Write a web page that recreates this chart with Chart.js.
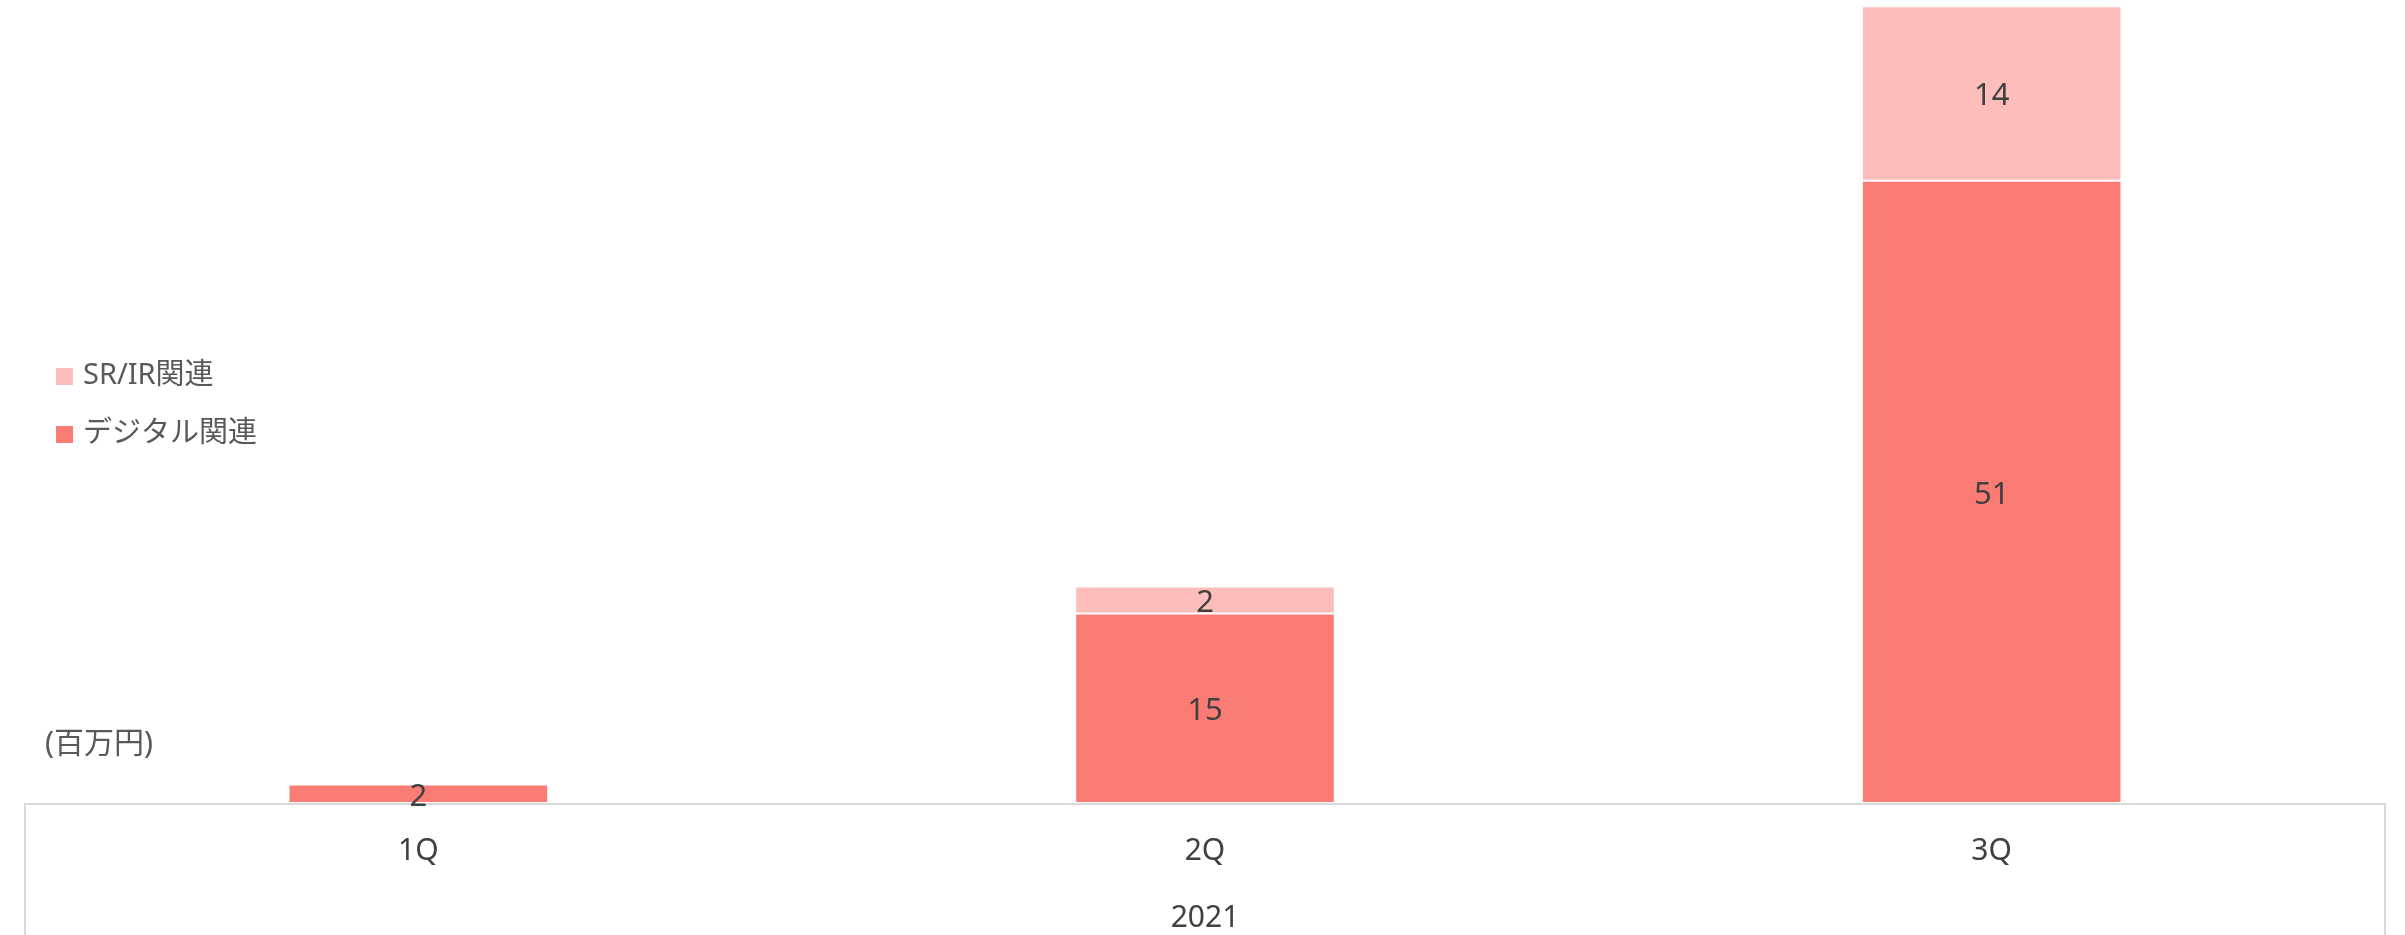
<!DOCTYPE html>
<html>
<head>
<meta charset="utf-8">
<script src="https://cdn.jsdelivr.net/npm/chart.js@4/dist/chart.umd.min.js"></script>
<style>
    html, body { margin: 0; padding: 0; background: #ffffff; }
    #wrap { width: 2405px; height: 935px; }
</style>
</head>
<body>
<div id="wrap"><canvas id="salesChart" width="2405" height="935"></canvas></div>
<script>
const quarters = ['1Q', '2Q', '3Q'];
const yearLabel = '2021';
const unitLabel = '(百万円)';
const digitalValues = [1.5, 15.4, 50.6];
const srIrValues = [null, 2.2, 14.2];
const seriesNames = ['デジタル関連', 'SR/IR関連'];

const colors = {
    digital: '#fb7c74',
    srIr: '#fdbdbb',
    axis: '#d9d9d9',
    text: '#404040',
    legendText: '#595959'
};
const fontFamily = '"Noto Sans", "Noto Sans CJK JP", sans-serif';

const overlayPlugin = {
    id: 'overlay',
    afterDraw: function (chart) {
        const ctx = chart.ctx;
        const area = chart.chartArea;
        const bottom = chart.height;

        ctx.save();
        // axis frame
        ctx.strokeStyle = colors.axis;
        ctx.lineWidth = 2;
        ctx.beginPath();
        ctx.moveTo(area.left, area.bottom + 1);
        ctx.lineTo(area.right, area.bottom + 1);
        ctx.moveTo(area.left, area.bottom);
        ctx.lineTo(area.left, bottom);
        ctx.moveTo(area.right, area.bottom);
        ctx.lineTo(area.right, bottom);
        ctx.stroke();

        // group label
        ctx.fillStyle = colors.text;
        ctx.font = '30px ' + fontFamily;
        ctx.textAlign = 'center';
        ctx.textBaseline = 'middle';
        ctx.fillText(yearLabel, (area.left + area.right) / 2, 918);

        // unit
        ctx.fillStyle = colors.legendText;
        ctx.font = '30px ' + fontFamily;
        ctx.textAlign = 'left';
        ctx.fillText(unitLabel, 45, 744);

        // legend (stack order, top series first)
        ctx.font = '29px ' + fontFamily;
        const sets = chart.data.datasets;
        let rowY = 376;
        for (let i = sets.length - 1; i >= 0; i--) {
            ctx.fillStyle = sets[i].backgroundColor;
            ctx.fillRect(56, rowY - 8, 17, 17);
            ctx.fillStyle = colors.legendText;
            ctx.fillText(sets[i].label, 83, rowY);
            rowY += 58;
        }

        // value labels
        ctx.fillStyle = colors.text;
        ctx.font = '31px ' + fontFamily;
        ctx.textAlign = 'center';
        sets.forEach(function (ds, di) {
            const meta = chart.getDatasetMeta(di);
            meta.data.forEach(function (bar, idx) {
                const v = ds.data[idx];
                if (v === null || v === undefined) {
                    return;
                }
                ctx.fillText(String(Math.round(v)), bar.x, (bar.y + bar.base) / 2 + 3);
            });
        });
        ctx.restore();
    }
};

new Chart(document.getElementById('salesChart'), {
    type: 'bar',
    data: {
        labels: quarters,
        datasets: [{
            label: seriesNames[0],
            data: digitalValues,
            backgroundColor: colors.digital,
            borderColor: '#ffffff',
            borderWidth: 1,
            borderSkipped: false
        }, {
            label: seriesNames[1],
            data: srIrValues,
            backgroundColor: colors.srIr,
            borderColor: '#ffffff',
            borderWidth: 1,
            borderSkipped: false
        }]
    },
    options: {
        responsive: false,
        animation: false,
        layout: { padding: { left: 25, right: 20, top: 0, bottom: 0 } },
        datasets: {
            bar: { categoryPercentage: 1, barPercentage: 0.33 }
        },
        plugins: {
            legend: { display: false },
            tooltip: { enabled: false }
        },
        scales: {
            x: {
                stacked: true,
                grid: { display: false, drawTicks: false },
                border: { display: false },
                ticks: {
                    color: colors.text,
                    font: { size: 30, family: fontFamily },
                    padding: 30
                },
                afterFit: function (scale) {
                    scale.height = 132;
                }
            },
            y: {
                stacked: true,
                display: false,
                min: 0,
                max: 65.3
            }
        }
    },
    plugins: [overlayPlugin]
});
</script>
</body>
</html>
